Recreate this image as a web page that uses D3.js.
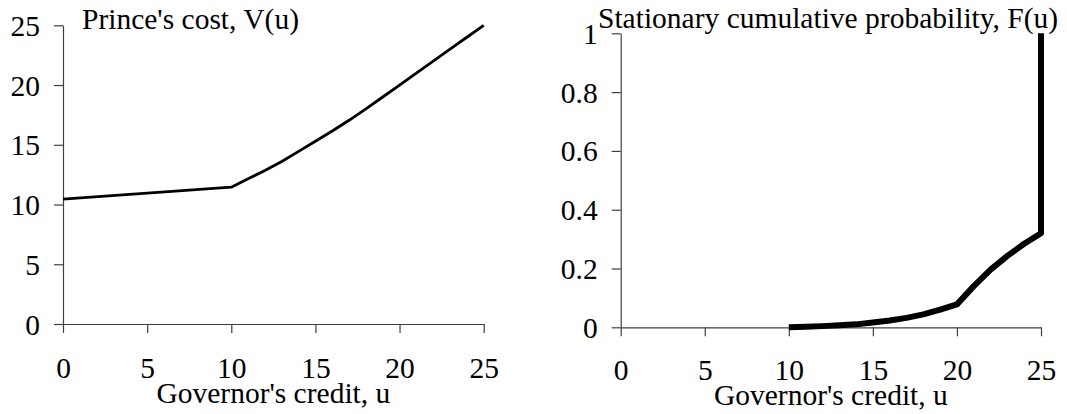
<!DOCTYPE html>
<html>
<head>
<meta charset="utf-8">
<script src="https://cdn.jsdelivr.net/npm/d3@7"></script>
<style>
  body { margin: 0; background: #fff; }
  svg text { font-family: "Liberation Serif", "Times New Roman", serif; fill: #000; }
</style>
</head>
<body>
<div id="chart"></div>
<script>
// values
var costU = [0, 10, 11, 12, 13, 14, 15, 16, 17, 18, 19, 20, 21, 22, 23, 24, 25];
var costV = [10.45, 11.45, 12.15, 12.85, 13.6, 14.45, 15.3, 16.15, 17.05, 18, 19, 20, 21, 22, 23, 24, 25];
var probU = [10, 11, 12, 13, 14, 15, 16, 17, 18, 19, 20, 21, 22, 23, 24, 25, 25];
var probF = [0, 0.002, 0.004, 0.007, 0.01, 0.016, 0.023, 0.032, 0.044, 0.06, 0.078, 0.14, 0.196, 0.243, 0.284, 0.32, 1];
var xTicks = [0, 5, 10, 15, 20, 25];
var costTicks = [0, 5, 10, 15, 20, 25];
var probTicks = [0, 0.2, 0.4, 0.6, 0.8, 1];

var fontSize = 29.5;
var serif = "Liberation Serif, Times New Roman, serif";
var axisColor = "#404040";

var svg = d3.select("#chart").append("svg")
  .attr("width", 1067)
  .attr("height", 414);

// draws one panel; box gives pixel positions of axes
function panel(box, ux, uy, yDomain, yTicks, yFormat, lineWidth, title, titleX, titleY, xLabelY, xLabelBase) {
  var x = d3.scaleLinear().domain([0, 25]).range([box.left, box.right]);
  var y = d3.scaleLinear().domain(yDomain).range([box.bottom, box.top]);

  var gx = svg.append("g")
    .attr("transform", "translate(0," + box.bottom + ")")
    .call(d3.axisBottom(x).tickValues(xTicks).tickSize(9).tickSizeOuter(0).tickFormat(d3.format("d")));
  gx.selectAll("text").attr("y", xLabelBase).attr("dy", 0);

  var gy = svg.append("g")
    .attr("transform", "translate(" + box.left + ",0)")
    .call(d3.axisLeft(y).tickValues(yTicks).tickSize(9).tickSizeOuter(0).tickPadding(14).tickFormat(yFormat));
  gy.selectAll("text").attr("dy", "0.34em");

  [gx, gy].forEach(function(g) {
    g.attr("font-family", serif).attr("font-size", fontSize);
    g.selectAll("path, line").attr("stroke", axisColor).attr("stroke-width", 1.2);
    g.selectAll("text").attr("fill", "#000").style("font-family", serif);
  });

  var line = d3.line().x(function(d) { return x(d[0]); }).y(function(d) { return y(d[1]); });
  svg.append("path")
    .datum(d3.zip(ux, uy))
    .attr("d", line)
    .attr("fill", "none")
    .attr("stroke", "#000")
    .attr("stroke-width", lineWidth)
    .attr("stroke-linejoin", "round");

  svg.append("text")
    .attr("x", titleX)
    .attr("y", titleY)
    .attr("font-size", fontSize)
    .text(title);

  svg.append("text")
    .attr("x", (box.left + box.right) / 2)
    .attr("y", xLabelY)
    .attr("text-anchor", "middle")
    .attr("font-size", fontSize)
    .text("Governor's credit, u");
}

panel({left: 63, right: 483.7, top: 25.3, bottom: 324},
  costU, costV, [0, 25], costTicks, d3.format("d"), 2.8,
  "Prince's cost, V(u)", 82, 29, 403, 54);

panel({left: 620.7, right: 1041, top: 33.3, bottom: 327.3},
  probU, probF, [0, 1], probTicks, function(d) { return d === 0 || d === 1 ? d3.format("d")(d) : d3.format(".1f")(d); }, 6,
  "Stationary cumulative probability, F(u)", 598, 28, 405, 53);
</script>
</body>
</html>
